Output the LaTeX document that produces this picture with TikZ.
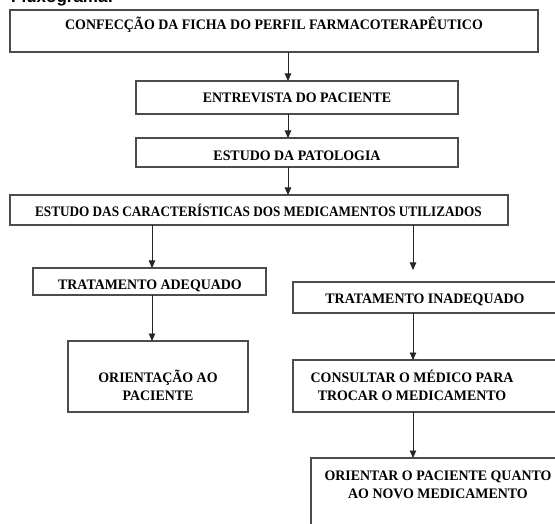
\documentclass[tikz,border=0pt]{standalone}
\usepackage{fontspec}
\setmainfont{Liberation Serif}
\newfontfamily\headfont{Liberation Sans}
\usetikzlibrary{arrows.meta}
\begin{document}
\begin{tikzpicture}[x=1pt,y=-1pt,
  box/.style={draw=black!70, line width=1.1pt, rectangle, inner sep=0pt, outer sep=0pt},
  lbl/.style={font=\fontsize{14.5}{18}\selectfont\bfseries\addfontfeature{FakeStretch=0.96}, align=center, inner sep=0pt},
  arr/.style={draw=black!85, line width=0.9pt, -{Triangle[length=7.5pt,width=6.5pt]}}]
\clip (0,0) rectangle (555,524);
\useasboundingbox (0,0) rectangle (555,524);

% title, partly above the frame
\node[anchor=base west, inner sep=0pt, font=\headfont\bfseries\fontsize{17}{20}\selectfont] (title) at (11,2.5) {Fluxograma:};

% boxes
\node[box, minimum width=528pt, minimum height=42pt] (b1) at (274,31) {};
\node[box, minimum width=322pt, minimum height=33pt] (b2) at (297,97.5) {};
\node[box, minimum width=322pt, minimum height=29pt] (b3) at (297,152.5) {};
\node[box, minimum width=498pt, minimum height=30pt] (b4) at (259,210) {};
\node[box, minimum width=233pt, minimum height=27pt] (b5) at (149.5,281.5) {};
\node[box, minimum width=277pt, minimum height=31pt] (b6) at (431.5,297.5) {};
\node[box, minimum width=180pt, minimum height=71pt] (b7) at (158,376.5) {};
\node[box, minimum width=277pt, minimum height=52pt] (b8) at (431.5,386) {};
\node[box, minimum width=269pt, minimum height=82pt] (b9) at (445.5,499) {};

% labels
\node[lbl, anchor=base] (t1) at (274,30) {CONFECÇÃO DA FICHA DO PERFIL FARMACOTERAPÊUTICO};
\node[lbl, anchor=base] (t2) at (297,103) {ENTREVISTA DO PACIENTE};
\node[lbl, anchor=base] (t3) at (297,161) {ESTUDO DA PATOLOGIA};
\node[lbl, anchor=base, font=\fontsize{14.5}{18}\selectfont\bfseries\addfontfeature{FakeStretch=0.91}] (t4) at (258.5,217) {ESTUDO DAS CARACTERÍSTICAS DOS MEDICAMENTOS UTILIZADOS};
\node[lbl, anchor=base] (t5) at (150,290) {TRATAMENTO ADEQUADO};
\node[lbl, anchor=base] (t6) at (425,303) {TRATAMENTO INADEQUADO};
\node[lbl] (t7) at (158,385) {ORIENTAÇÃO AO\\PACIENTE};
\node[lbl] (t8) at (412,385) {CONSULTAR O MÉDICO PARA\\TROCAR O MEDICAMENTO};
\node[lbl] (t9) at (438,484.5) {ORIENTAR O PACIENTE QUANTO\\AO NOVO MEDICAMENTO};

% connector columns
\coordinate (c1) at (288,0);
\coordinate (cl) at (152,0);
\coordinate (cr) at (413,0);
\coordinate (rEnd) at (413,270);

% connectors
\draw[arr] (b1.south -| c1) -- (b2.north -| c1);
\draw[arr] (b2.south -| c1) -- (b3.north -| c1);
\draw[arr] (b3.south -| c1) -- (b4.north -| c1);
\draw[arr] (b4.south -| cl) -- (b5.north -| cl);
\draw[arr] (b4.south -| cr) -- (rEnd);
\draw[arr] (b5.south -| cl) -- (b7.north -| cl);
\draw[arr] (b6.south -| cr) -- (b8.north -| cr);
\draw[arr] (b8.south -| cr) -- (b9.north -| cr);
\end{tikzpicture}
\end{document}
